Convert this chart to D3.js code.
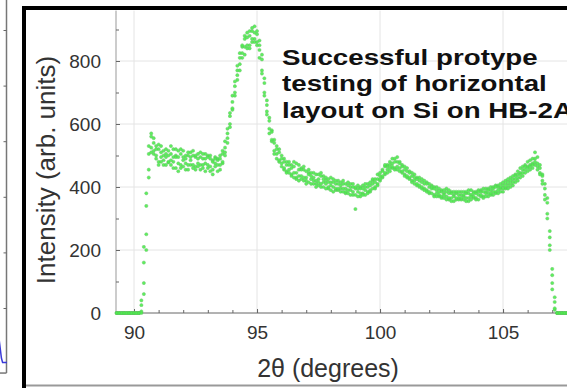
<!DOCTYPE html>
<html>
<head>
<meta charset="utf-8">
<style>
body { margin: 0; background: #fff; }
svg text { font-family: "Liberation Sans", Arial, sans-serif; }
.axis path { display: none; }
.axis line { stroke: #666; }
</style>
</head>
<body>
<script src="https://cdn.jsdelivr.net/npm/d3@7/dist/d3.min.js"></script>
<script>
// scan angles (degrees 2theta)
const angles = [
  89.3,89.4,89.5,89.6,89.7,89.8,89.9,90.0,90.1,90.2,
  90.3,90.4,90.5,90.6,90.7,90.8,90.9,91.0,91.1,91.2,
  91.3,91.4,91.5,91.6,91.7,91.8,91.9,92.0,92.1,92.2,
  92.3,92.4,92.5,92.6,92.7,92.8,92.9,93.0,93.1,93.2,
  93.3,93.4,93.5,93.6,93.7,93.8,93.9,94.0,94.1,94.2,
  94.3,94.4,94.5,94.6,94.7,94.8,94.9,95.0,95.1,95.2,
  95.3,95.4,95.5,95.6,95.7,95.8,95.9,96.0,96.1,96.2,
  96.3,96.4,96.5,96.6,96.7,96.8,96.9,97.0,97.1,97.2,
  97.3,97.4,97.5,97.6,97.7,97.8,97.9,98.0,98.1,98.2,
  98.3,98.4,98.5,98.6,98.7,98.8,98.9,99.0,99.1,99.2,
  99.3,99.4,99.5,99.6,99.7,99.8,99.9,100.0,100.1,100.2,
  100.3,100.4,100.5,100.6,100.7,100.8,100.9,101.0,101.1,101.2,
  101.3,101.4,101.5,101.6,101.7,101.8,101.9,102.0,102.1,102.2,
  102.3,102.4,102.5,102.6,102.7,102.8,102.9,103.0,103.1,103.2,
  103.3,103.4,103.5,103.6,103.7,103.8,103.9,104.0,104.1,104.2,
  104.3,104.4,104.5,104.6,104.7,104.8,104.9,105.0,105.1,105.2,
  105.3,105.4,105.5,105.6,105.7,105.8,105.9,106.0,106.1,106.2,
  106.3,106.4,106.5,106.6,106.7,106.8,106.9,107.0,107.1,107.2,
  107.3,107.4,107.5,107.6
];

// four overlapping detector readings
const scanA = [
  0,0,0,0,0,0,0,0,0,0,
  25,95,250,455,560,540,490,520,530,470,
  520,478,505,460,500,515,470,495,455,500,
  470,500,465,505,455,490,475,500,450,485,
  465,490,470,515,510,585,590,670,735,740,
  790,845,820,890,850,905,870,885,810,805,
  745,640,620,545,550,490,510,465,490,450,
  480,440,465,430,470,425,455,420,445,410,
  445,410,425,400,435,420,395,415,425,390,
  420,385,410,380,415,400,375,395,405,370,
  405,375,410,385,420,400,440,420,455,440,
  470,450,490,460,480,450,470,440,460,425,
  445,410,430,400,425,395,415,380,405,375,
  400,370,390,365,395,360,385,355,380,360,
  385,360,380,355,390,365,385,360,390,370,
  395,370,400,375,405,380,410,385,420,395,
  430,405,440,420,460,435,470,450,485,460,
  490,465,470,440,410,350,260,140,35,0,
  0,0,0,0
];
const scanB = [
  0,0,0,0,0,0,0,0,0,0,
  5,160,340,505,525,505,530,480,495,515,
  470,515,530,495,460,475,520,465,500,470,
  510,470,495,465,495,460,505,470,490,455,
  495,450,500,475,545,540,635,645,690,785,
  825,810,870,840,895,860,910,850,865,770,
  700,675,585,580,515,530,480,500,455,480,
  445,470,430,475,435,460,420,450,415,445,
  410,440,405,435,400,430,425,390,400,420,
  390,415,385,410,380,410,400,375,385,400,
  380,400,385,415,395,425,410,445,430,465,
  445,480,460,490,455,480,445,465,430,450,
  420,440,405,430,395,420,390,410,380,400,
  370,395,365,390,360,390,365,385,360,385,
  360,385,365,390,360,385,365,390,370,395,
  370,395,375,400,380,405,385,415,395,425,
  400,435,415,450,430,465,445,480,455,490,
  470,495,445,420,375,315,215,95,10,0,
  0,0,0,0
];
const scanC = [
  0,0,0,0,0,0,0,0,0,0,
  40,210,380,530,570,515,500,470,480,500,
  495,480,470,520,495,450,505,515,475,455,
  485,515,455,490,470,505,450,495,465,480,
  475,470,455,505,525,570,600,690,720,770,
  770,850,845,875,840,895,860,895,835,820,
  730,630,610,550,540,505,520,475,480,470,
  455,435,480,445,420,455,465,430,440,425,
  430,420,440,410,415,395,415,430,385,410,
  410,395,420,395,390,375,410,330,395,380,
  395,410,380,405,410,395,425,435,450,445,
  465,470,475,455,495,460,465,435,450,430,
  435,420,425,405,415,410,385,400,395,370,
  390,375,385,380,370,380,355,375,385,365,
  375,370,355,380,375,370,380,375,385,365,
  385,380,390,395,385,400,395,405,410,405,
  420,415,435,430,445,455,455,465,470,475,
  510,455,460,435,395,365,200,75,50,0,
  0,0,0,0
];
const scanD = [
  0,0,0,0,0,0,0,0,0,0,
  0,60,200,430,510,555,520,535,510,485,
  505,500,485,480,520,495,460,485,490,510,
  495,460,500,475,510,470,490,460,500,440,
  490,485,490,480,500,555,625,650,700,755,
  810,825,880,850,880,870,890,860,850,760,
  690,660,570,575,505,520,485,490,460,445,
  470,460,445,425,455,435,430,410,455,435,
  420,400,415,445,425,410,400,405,415,395,
  395,405,395,385,405,390,385,400,370,395,
  375,390,400,390,425,415,405,425,435,470,
  455,460,465,480,465,475,450,455,435,445,
  415,430,410,420,400,390,410,385,400,395,
  380,385,370,375,385,365,380,370,365,375,
  365,375,385,365,370,380,360,385,375,385,
  380,390,380,385,400,390,400,395,400,415,
  410,425,425,440,440,445,465,460,465,470,
  480,475,440,410,360,300,240,120,15,0,
  0,0,0,0
];

const xTicks = [90, 95, 100, 105];
const xMinor = [90,91,92,93,94,95,96,97,98,99,100,101,102,103,104,105,106,107];
const yTicks = [0, 200, 400, 600, 800];
const yMinor = [0,100,200,300,400,500,600,700,800,900];
const xTitle = "2θ (degrees)";
const yTitle = "Intensity (arb. units)";
const note = ["Successful protype", "testing of horizontal", "layout on Si on HB-2A"];

// edge of the neighbouring panel
const sideTicks = [0, 1, 2, 3, 4, 5];
const sideTrace = [{u: 0, v: -0.55}, {u: 0.3, v: -0.9}, {u: 0.45, v: -0.98}, {u: 1, v: -0.98}];

const W = 567, H = 388;
const svg = d3.select("body").append("svg")
  .attr("width", W).attr("height", H);

const x = d3.scaleLinear().domain([89.268, 107.6]).range([116, 567]);
const y = d3.scaleLinear().domain([0, 960]).range([313, 10.6]);

// neighbour panel fragment
const sideY = d3.scaleLinear().domain([0, 5]).range([308, 30]);
const sideX = d3.scaleLinear().domain([0, 1]).range([-1, 7]);
svg.append("line")
  .attr("x1", 6.5).attr("x2", 6.5)
  .attr("y1", sideY(6)).attr("y2", sideY(-1.17))
  .attr("stroke", "#777").attr("stroke-width", 1.5);
svg.append("line")
  .attr("x1", 0).attr("x2", 6.5)
  .attr("y1", sideY(-1.17)).attr("y2", sideY(-1.17))
  .attr("stroke", "#777").attr("stroke-width", 1.5);
svg.append("g")
  .attr("class", "axis")
  .attr("transform", "translate(6.5,0)")
  .call(d3.axisLeft(sideY).tickValues(sideTicks).tickSize(3).tickFormat(""));
svg.append("path")
  .datum(sideTrace)
  .attr("fill", "none")
  .attr("stroke", "#3a3ad8")
  .attr("stroke-width", 1.5)
  .attr("d", d3.line().x(d => sideX(d.u)).y(d => sideY(d.v)));

// main frame
svg.append("line")
  .attr("x1", 24).attr("x2", 24).attr("y1", 6).attr("y2", H)
  .attr("stroke", "#000").attr("stroke-width", 4);
svg.append("line")
  .attr("x1", 22).attr("x2", W).attr("y1", 8).attr("y2", 8)
  .attr("stroke", "#000").attr("stroke-width", 4);
svg.append("line")
  .attr("x1", 26).attr("x2", W).attr("y1", 385.5).attr("y2", 385.5)
  .attr("stroke", "#999").attr("stroke-width", 2);

// grid
svg.append("g").selectAll("line").data(xTicks).enter().append("line")
  .attr("x1", d => x(d)).attr("x2", d => x(d))
  .attr("y1", y(0)).attr("y2", y(960))
  .attr("stroke", "#e4e4e4");
svg.append("g").selectAll("line").data(yTicks.slice(1)).enter().append("line")
  .attr("x1", x.range()[0]).attr("x2", W)
  .attr("y1", d => y(d)).attr("y2", d => y(d))
  .attr("stroke", "#e4e4e4");

// axes lines
svg.append("line")
  .attr("x1", x.range()[0]).attr("x2", x.range()[0])
  .attr("y1", y(0)).attr("y2", y(960))
  .attr("stroke", "#999");
svg.append("line")
  .attr("x1", x.range()[0]).attr("x2", W)
  .attr("y1", y(0)).attr("y2", y(0))
  .attr("stroke", "#666");

// minor ticks
svg.append("g").attr("class", "axis")
  .attr("transform", `translate(0,${y(0)})`)
  .call(d3.axisBottom(x).tickValues(xMinor).tickSizeInner(-3).tickFormat(""));
svg.append("g").attr("class", "axis")
  .attr("transform", `translate(${x.range()[0]},0)`)
  .call(d3.axisLeft(y).tickValues(yMinor).tickSizeInner(-3).tickFormat(""));

// labelled ticks
svg.append("g").attr("class", "axis")
  .attr("transform", `translate(0,${y(0)})`)
  .call(d3.axisBottom(x).tickValues(xTicks).tickSizeInner(-4).tickPadding(13));
svg.append("g").attr("class", "axis")
  .attr("transform", `translate(${x.range()[0]},0)`)
  .call(d3.axisLeft(y).tickValues(yTicks).tickSizeInner(-4).tickPadding(15));
svg.selectAll(".axis text")
  .attr("font-size", 19)
  .attr("fill", "#333")
  .attr("font-family", "Liberation Sans, Arial, sans-serif");

// data points
const scans = [scanA, scanB, scanC, scanD];
scans.forEach(scan => {
  svg.append("g").selectAll("circle")
    .data(angles.map((a, i) => ({a: a, v: scan[i]})))
    .enter().append("circle")
    .attr("cx", d => x(d.a))
    .attr("cy", d => y(d.v))
    .attr("r", 1.6)
    .attr("fill", "#4cef4c")
    .attr("stroke", "#62bf62")
    .attr("stroke-width", 0.5)
    .attr("opacity", 0.9);
});

// axis titles
svg.append("text")
  .attr("transform", "translate(55,170) rotate(-90)")
  .attr("text-anchor", "middle")
  .attr("font-size", 26)
  .attr("fill", "#333")
  .text(yTitle);
svg.append("text")
  .attr("x", 328).attr("y", 377)
  .attr("text-anchor", "middle")
  .attr("font-size", 25)
  .attr("fill", "#333")
  .text(xTitle);

// annotation
const noteG = svg.append("g").attr("transform", "translate(282,0) scale(1.26,1)");
noteG.selectAll("text").data(note).enter().append("text")
  .attr("x", 0)
  .attr("y", (d, i) => [65, 91, 118][i])
  .attr("font-size", 22)
  .attr("font-weight", "bold")
  .attr("fill", "#111")
  .text(d => d);
</script>
</body>
</html>
